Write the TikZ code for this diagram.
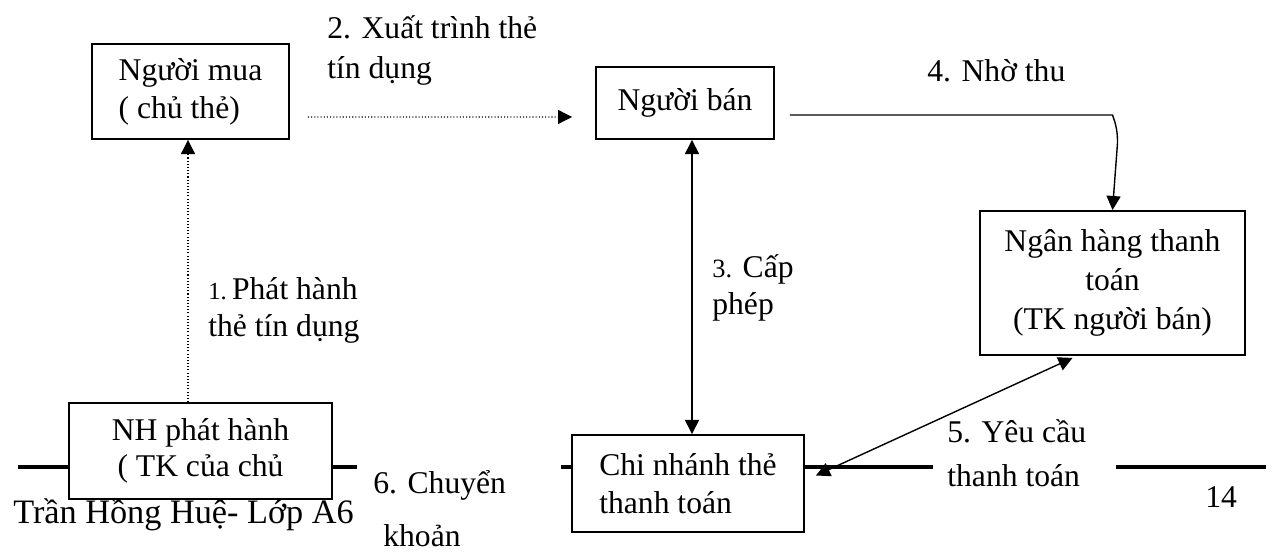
\documentclass[tikz,border=0pt]{standalone}
\usepackage{fontspec}
\setmainfont{Liberation Serif}
\usetikzlibrary{arrows.meta, calc}

\begin{document}
\begin{tikzpicture}[
    x=0.02cm, y=-0.02cm,
    every node/.style={font=\fontsize{18}{21.6}\selectfont, inner sep=0pt},
    box/.style={rectangle, draw, line width=1.1pt, fill=white, align=center},
    note/.style={align=left, anchor=west},
    line/.style={draw, line width=0.8pt},
    arr/.style={line, -{Triangle[length=8pt, width=8pt]}},
    biarr/.style={line, {Triangle[length=8pt, width=8pt]}-{Triangle[length=8pt, width=8pt]}},
    dots/.style={draw, line width=0.6pt, dash pattern=on 0.6pt off 1.2pt, -{Triangle[length=8pt, width=8pt]}},
    rule/.style={draw, line width=2.6pt}
]
\useasboundingbox (0,0) rectangle (1274,553);

% Page footer (behind the boxes)
\draw[rule] (18,467) -- (357,467);
\draw[rule] (561,467) -- (933,467);
\draw[rule] (1116,467) -- (1266,467);
\node[anchor=base west, font=\fontsize{19.5}{22}\selectfont] (footer) at (13,523) {Trần Hồng Huệ- Lớp A6};
\node[anchor=base west] (page) at (1205,507) {14};

% Nodes
\node[box, align=left, minimum width=3.94cm, minimum height=1.9cm] (mua) at (190.5,91.5) {Người mua\\( chủ thẻ)};
\node[box, minimum width=3.56cm, minimum height=1.44cm] (ban) at (685,103) {Người bán};
\node[box, font=\fontsize{18}{22}\selectfont, minimum width=5.3cm, minimum height=2.88cm] (nt) at (1112.5,283) {Ngân hàng thanh\\toán\\(TK người bán)};
\node[box, align=left, minimum width=4.64cm, minimum height=1.94cm] (cn) at (688,483.5) {Chi nhánh thẻ\\thanh toán};
\node[box, font=\fontsize{18}{20.5}\selectfont, minimum width=5.26cm, minimum height=1.92cm] (nh) at (200.5,451) {NH phát hành\\( TK của chủ};

% Relationships
\coordinate (c1) at ([shift={(-2.5,0)}]mua.south);
\draw[dots] (c1 |- nh.north) -- (c1);
\coordinate (c2) at ([shift={(18,25.5)}]mua.east);
\draw[dots] (c2) -- ([shift={(-23,14)}]ban.west);
\coordinate (c3) at ([shift={(7,0)}]ban.south);
\draw[biarr] (c3) -- (c3 |- cn.north);
\coordinate (c4) at ([shift={(15,12)}]ban.east);
\draw[arr] (c4) -- (c4 -| nt.north) to[out=-70, in=90] ++(5,28) -- (nt.north);
\draw[biarr] ([shift={(-40,2)}]nt.south) -- ([shift={(11,-8)}]cn.east);

% Labels
\node[note, font=\fontsize{18}{22.8}\selectfont] (l2) at (327,50) {2. Xuất trình thẻ\\tín dụng};
\node[note, anchor=base west] (l4) at (927,82) {4. Nhờ thu};
\node[note, font=\fontsize{18}{21}\selectfont] (l1) at (208,310) {{\fontsize{14}{14}\selectfont 1.}\,Phát hành\\thẻ tín dụng};
\node[note, font=\fontsize{18}{21}\selectfont] (l3) at (712,288) {{\fontsize{15}{15}\selectfont 3.} Cấp\\phép};
\node[note, font=\fontsize{18}{25}\selectfont] (l5) at (947,453) {5. Yêu cầu\\thanh toán};
\node[note, font=\fontsize{18}{30}\selectfont] (l6) at (373,509) {6. Chuyển\\\hspace*{0.2cm}khoản};

\end{tikzpicture}
\end{document}
